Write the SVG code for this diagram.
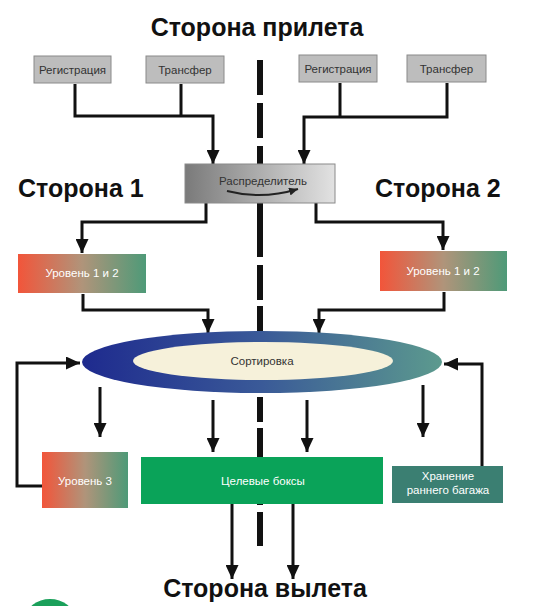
<svg xmlns="http://www.w3.org/2000/svg" width="555" height="606" viewBox="0 0 555 606">
<defs>
<style>
.title{font-family:"Liberation Sans",Arial,sans-serif;font-weight:bold;fill:#111;}
.small{font-family:"Liberation Sans",Arial,sans-serif;font-size:11.5px;text-anchor:middle;}
.gray{fill:#bdbdbd;stroke:#8a8a8a;stroke-width:1;}
.conn{fill:none;stroke:#111;stroke-width:3;}
.wt{fill:#fff;}
.dk{fill:#333;}
</style>
<marker id="ah" markerUnits="userSpaceOnUse" markerWidth="14" markerHeight="13" viewBox="0 0 14 13" refX="14" refY="6.5" orient="auto">
<path d="M0,0 L14,6.5 L0,13 z" fill="#111"/>
</marker>
<marker id="ahs" markerUnits="userSpaceOnUse" markerWidth="9" markerHeight="8" viewBox="0 0 9 8" refX="9" refY="4" orient="auto">
<path d="M0,0 L9,4 L0,8 z" fill="#222"/>
</marker>
<linearGradient id="distG" x1="0" x2="1" y1="0" y2="0">
<stop offset="0" stop-color="#7a7a7a"/>
<stop offset="1" stop-color="#e2e2e2"/>
</linearGradient>
<linearGradient id="lvlG" x1="0" x2="1" y1="0" y2="0">
<stop offset="0" stop-color="#f2553a"/>
<stop offset="0.5" stop-color="#b0947a"/>
<stop offset="1" stop-color="#4e9a78"/>
</linearGradient>
<linearGradient id="ellG" x1="0" x2="1" y1="0" y2="0">
<stop offset="0" stop-color="#1e2a8e"/>
<stop offset="0.5" stop-color="#3a5a98"/>
<stop offset="1" stop-color="#5c9a8e"/>
</linearGradient>
</defs>
<rect width="555" height="606" fill="#fff"/>

<g id="centerline" fill="#111">
<rect x="257" y="60" width="6" height="35"/>
<rect x="257" y="103" width="6" height="35"/>
<rect x="257" y="146" width="6" height="20"/>
<rect x="257" y="200" width="6" height="57"/>
<rect x="257" y="265" width="6" height="35"/>
<rect x="257" y="306" width="6" height="30"/>
<rect x="257" y="397" width="6" height="25"/>
<rect x="257" y="428" width="6" height="31"/>
<rect x="257" y="502" width="6" height="3"/>
<rect x="257" y="512" width="6" height="34"/>
</g>

<g id="titles">
<text class="title" x="257" y="36" font-size="25" text-anchor="middle">Сторона прилета</text>
<text class="title" x="18" y="197" font-size="25">Сторона 1</text>
<text class="title" x="375" y="197" font-size="25">Сторона 2</text>
<text class="title" x="265" y="597" font-size="25" text-anchor="middle">Сторона вылета</text>
</g>

<g id="connectors">
<polyline class="conn" points="75,84 75,116 213,116 213,164" marker-end="url(#ah)"/>
<line class="conn" x1="181" y1="84" x2="181" y2="116"/>
<polyline class="conn" points="447,83 447,117 304,117 304,164" marker-end="url(#ah)"/>
<line class="conn" x1="340" y1="83" x2="340" y2="117"/>
<polyline class="conn" points="206,203 206,222 82,222 82,253" marker-end="url(#ah)"/>
<polyline class="conn" points="316,203 316,222 443,222 443,250" marker-end="url(#ah)"/>
<polyline class="conn" points="83,294 83,310 208,310 208,333" marker-end="url(#ah)"/>
<polyline class="conn" points="444,292 444,310 319,310 319,333" marker-end="url(#ah)"/>
<line class="conn" x1="100" y1="387" x2="100" y2="437" marker-end="url(#ah)"/>
<line class="conn" x1="423" y1="385" x2="423" y2="437" marker-end="url(#ah)"/>
<line class="conn" x1="213" y1="400" x2="213" y2="452" marker-end="url(#ah)"/>
<line class="conn" x1="307" y1="400" x2="307" y2="452" marker-end="url(#ah)"/>
<polyline class="conn" points="42,486 17,486 17,363 80,363" marker-end="url(#ah)"/>
<polyline class="conn" points="482,466 482,364 444,364" marker-end="url(#ah)"/>
<line class="conn" x1="232" y1="504" x2="232" y2="579" marker-end="url(#ah)"/>
<line class="conn" x1="293" y1="504" x2="293" y2="579" marker-end="url(#ah)"/>
</g>

<g id="reg1"><rect class="gray" x="34" y="56" width="77" height="27"/><text class="small dk" x="72.5" y="74">Регистрация</text></g>
<g id="trans1"><rect class="gray" x="146" y="56" width="78" height="27"/><text class="small dk" x="185" y="74">Трансфер</text></g>
<g id="reg2"><rect class="gray" x="299" y="55" width="78" height="27"/><text class="small dk" x="338" y="73">Регистрация</text></g>
<g id="trans2"><rect class="gray" x="407" y="55" width="79" height="27"/><text class="small dk" x="446.5" y="73">Трансфер</text></g>

<g id="distributor">
<rect x="185" y="164" width="150" height="39" fill="url(#distG)" stroke="#8a8a8a" stroke-width="1"/>
<text class="small dk" x="263" y="185">Распределитель</text>
<path d="M227,191 Q262,200 298,189" fill="none" stroke="#222" stroke-width="2" marker-end="url(#ahs)"/>
</g>

<g id="level12left"><rect x="18" y="254" width="128" height="39" fill="url(#lvlG)"/><text class="small wt" x="82" y="277" font-size="12">Уровень 1 и 2</text></g>
<g id="level12right"><rect x="380" y="251" width="127" height="40" fill="url(#lvlG)"/><text class="small wt" x="443" y="275" font-size="12">Уровень 1 и 2</text></g>

<g id="sorting">
<ellipse cx="262" cy="362" rx="180" ry="31" fill="url(#ellG)"/>
<ellipse cx="263" cy="361" rx="130" ry="19" fill="#f6f1da"/>
<text class="small dk" x="262" y="365" font-size="12">Сортировка</text>
</g>

<g id="level3"><rect x="42" y="452" width="86" height="56" fill="url(#lvlG)"/><text class="small wt" x="85" y="485" font-size="12">Уровень 3</text></g>
<g id="targetboxes"><rect x="141" y="457" width="242" height="47" fill="#0aa359"/><text class="small wt" x="263" y="485" font-size="12">Целевые боксы</text></g>
<g id="storage"><rect x="392" y="466" width="111" height="37" fill="#3b7f72"/><text class="small wt" x="448" y="480" font-size="12">Хранение</text><text class="small wt" x="448" y="494" font-size="12">раннего багажа</text></g>

<ellipse cx="50" cy="618" rx="24" ry="19" fill="#1aa05a"/>
</svg>
